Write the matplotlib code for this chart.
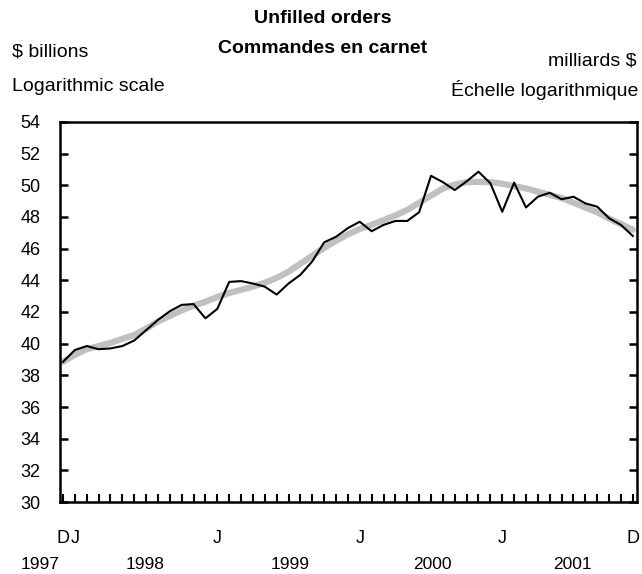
import numpy as np
import matplotlib
matplotlib.use("Agg")
import matplotlib.pyplot as plt

plt.rcParams['font.family'] = ['Liberation Sans', 'DejaVu Sans']

# datos mensuales, dic 1997 .. dic 2001
orders = [38.85, 39.6, 39.85, 39.65, 39.7, 39.85, 40.2, 40.85, 41.5, 42.05,
          42.45, 42.5, 41.6, 42.2, 43.9, 43.95, 43.8, 43.6, 43.1, 43.8,
          44.35, 45.2, 46.4, 46.75, 47.3, 47.7, 47.1, 47.5, 47.75, 47.75,
          48.3, 50.6, 50.2, 49.7, 50.25, 50.86, 50.13, 48.33, 50.17, 48.6,
          49.28, 49.53, 49.12, 49.28, 48.86, 48.65, 47.92, 47.5, 46.8]
trend = [38.85, 39.3, 39.65, 39.85, 40.05, 40.3, 40.55, 40.95, 41.4, 41.75,
         42.1, 42.4, 42.65, 42.95, 43.2, 43.4, 43.6, 43.85, 44.15, 44.55,
         45.05, 45.55, 46.05, 46.5, 46.9, 47.25, 47.5, 47.8, 48.1, 48.45,
         48.9, 49.35, 49.8, 50.05, 50.2, 50.22, 50.2, 50.1, 49.95, 49.8,
         49.6, 49.4, 49.2, 48.9, 48.6, 48.3, 47.9, 47.55, 47.2]
month_labels = {0: 'D', 1: 'J', 13: 'J', 25: 'J', 37: 'J', 48: 'D'}
years = ['1997', '1998', '1999', '2000', '2001']
year_pos = [-1.9, 6.9, 19.1, 31.1, 42.9]
yticks = list(range(30, 56, 2))

x = np.arange(len(orders))

fig = plt.figure(figsize=(6.42, 5.74), dpi=100)
ax = fig.add_axes([0.0935, 0.1254, 0.8985, 0.6621])

ax.plot(x, trend, color='#c0c0c0', lw=4.5, solid_capstyle='round', zorder=2)
ax.plot(x, orders, color='black', lw=1.5, zorder=3)

ax.set_xlim(-0.25, 48.34)
ax.set_ylim(30, 54)

ax.set_yticks(yticks)
ax.set_yticklabels([str(t) for t in yticks], fontsize=13)
ax.tick_params(axis='y', direction='in', length=6, width=1.8, left=True, right=True, pad=14)

ax.set_xticks(x)
ax.set_xticklabels([month_labels.get(i, '') for i in x], fontsize=13)
ax.tick_params(axis='x', direction='in', length=6, width=1.5, pad=20)

for s in ax.spines.values():
    s.set_linewidth(1.8)

for yr, p in zip(years, year_pos):
    ax.text(p, -0.165, yr, transform=ax.get_xaxis_transform(), ha='center', va='center', fontsize=12.5)

# titulos
fig.text(0.503, 0.968, 'Unfilled orders', ha='center', va='center', fontsize=14, fontweight='bold')
fig.text(0.503, 0.916, 'Commandes en carnet', ha='center', va='center', fontsize=14, fontweight='bold')
fig.text(0.019, 0.909, '$ billions', ha='left', va='center', fontsize=14)
fig.text(0.019, 0.849, 'Logarithmic scale', ha='left', va='center', fontsize=14)
fig.text(0.991, 0.893, 'milliards $', ha='right', va='center', fontsize=14)
fig.text(0.994, 0.843, 'Échelle logarithmique', ha='right', va='center', fontsize=14)

fig.savefig('out.png', dpi=100)
